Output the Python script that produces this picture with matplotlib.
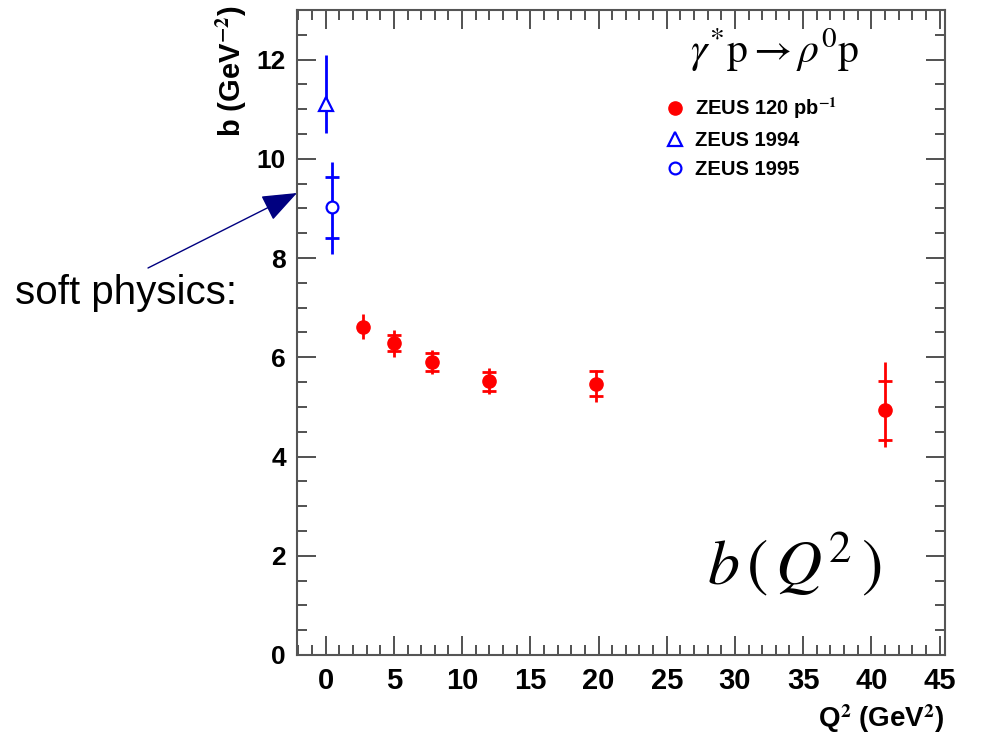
import numpy as np
import matplotlib
matplotlib.use("Agg")
import matplotlib.pyplot as plt
from matplotlib.ticker import MultipleLocator

plt.rcParams['mathtext.fontset'] = 'stix'

# ZEUS 120 pb^-1 (red filled circles)
q2_new = [2.7, 5.0, 7.8, 12.0, 19.8, 41.0]
b_new = [6.62, 6.28, 5.90, 5.52, 5.47, 4.93]
tot_up_new = [0.25, 0.27, 0.24, 0.26, 0.28, 0.97]
tot_dn_new = [0.25, 0.27, 0.24, 0.26, 0.38, 0.74]
stat_new = [0.0, 0.16, 0.18, 0.19, 0.26, 0.59]

# ZEUS 1994 (open triangle)
q2_94 = [0.0]
b_94 = [11.1]
tot_up_94 = [1.0]
tot_dn_94 = [0.57]

# ZEUS 1995 (open circle)
q2_95 = [0.45]
b_95 = [9.02]
tot_up_95 = [0.92]
tot_dn_95 = [0.94]
stat_95 = [0.61]

x_ticks = [0, 5, 10, 15, 20, 25, 30, 35, 40, 45]
y_ticks = [0, 2, 4, 6, 8, 10, 12]

fig = plt.figure(figsize=(9.81, 7.41), dpi=100)
ax = fig.add_axes([0.3028, 0.1161, 0.6605, 0.8704])

red = '#ff0000'
blue = '#0000ff'

# total uncertainties
ax.errorbar(q2_new, b_new, yerr=[tot_dn_new, tot_up_new], fmt='none',
            ecolor=red, elinewidth=2.0, capsize=0, zorder=2)
# statistical uncertainties as short crossing ticks
mask = np.array(stat_new) > 0
ax.errorbar(np.array(q2_new)[mask], np.array(b_new)[mask],
            yerr=np.array(stat_new)[mask], fmt='none', ecolor=red,
            elinewidth=0, capsize=5.0, capthick=2.0, zorder=2)
ax.plot(q2_new, b_new, 'o', color=red, markersize=9.5, zorder=3,
        label='ZEUS 120 pb$^{\\mathbf{-1}}$')

ax.errorbar(q2_94, b_94, yerr=[tot_dn_94, tot_up_94], fmt='none',
            ecolor=blue, elinewidth=2.0, capsize=0, zorder=2)
ax.plot(q2_94, b_94, '^', mfc='white', mec=blue, mew=1.6, markersize=10,
        zorder=3, label='ZEUS 1994')

ax.errorbar(q2_95, b_95, yerr=[tot_dn_95, tot_up_95], fmt='none',
            ecolor=blue, elinewidth=2.0, capsize=0, zorder=2)
ax.errorbar(q2_95, b_95, yerr=stat_95, fmt='none', ecolor=blue,
            elinewidth=0, capsize=5.0, capthick=2.0, zorder=2)
ax.plot(q2_95, b_95, 'o', mfc='white', mec=blue, mew=1.6, markersize=8.5,
        zorder=3, label='ZEUS 1995')

ax.set_xlim(-2.1, 45.4)
ax.set_ylim(0, 13)
ax.set_xticks(x_ticks)
ax.set_yticks(y_ticks)
ax.xaxis.set_minor_locator(MultipleLocator(1))
ax.yaxis.set_minor_locator(MultipleLocator(0.5))
ax.tick_params(which='both', direction='in', top=True, right=True,
               color='#333333', width=1.2)
ax.tick_params(which='major', length=14)
ax.tick_params(which='minor', length=7)
ax.tick_params(axis='x', which='major', pad=9)
ax.tick_params(axis='y', which='major', pad=8)
for lbl in ax.get_xticklabels():
    lbl.set_fontfamily('Liberation Sans')
    lbl.set_fontweight('bold')
    lbl.set_fontsize(21)
for lbl in ax.get_yticklabels():
    lbl.set_fontfamily('Liberation Sans')
    lbl.set_fontweight('bold')
    lbl.set_fontsize(19)
for sp in ax.spines.values():
    sp.set_color('#555555')
    sp.set_linewidth(1.5)

fig.text(0.963, 0.030, 'Q$^{\\mathbf{2}}$ (GeV$^{\\mathbf{2}}$)',
         ha='right', va='center', fontsize=20, fontweight='bold',
         family='Liberation Sans')
fig.text(0.236, 0.993, 'b (GeV$^{\\mathbf{-2}}$)', rotation=90,
         ha='center', va='top', fontsize=21, fontweight='bold',
         family='Liberation Sans')

leg = ax.legend(loc='upper left', bbox_to_anchor=(0.54, 0.895), frameon=False,
                prop={'family': 'Liberation Sans', 'weight': 'bold',
                      'size': 14.5},
                handletextpad=0.5, labelspacing=0.5, handlelength=1.0,
                numpoints=1)

# reaction label
fig.text(0.790, 0.932,
         r'$\gamma^{*}\mathrm{p}\rightarrow\rho^{0}\mathrm{p}$',
         ha='center', va='center', fontsize=30)

# large function label
fig.text(0.81, 0.24, r'$\mathit{b}\,(\,\mathit{Q}^{2}\,)$',
         ha='center', va='center', fontsize=46)

# annotation pointing to the soft-physics points
fig.text(0.015, 0.604, 'soft physics:', ha='left', va='center', fontsize=29,
         family='Liberation Sans')
ax.annotate('', xy=(297, 741 - 193), xycoords='figure pixels',
            xytext=(148, 741 - 268), textcoords='figure pixels',
            arrowprops=dict(arrowstyle='-|>,head_length=2.2,head_width=0.85',
                            color='#000080', lw=1.0, shrinkA=0, shrinkB=0),
            annotation_clip=False)

fig.savefig('out.png', dpi=100)
